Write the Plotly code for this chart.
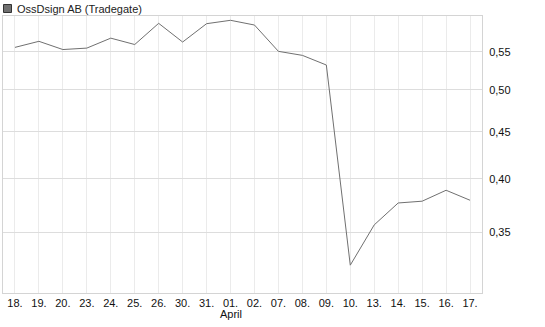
import plotly.graph_objects as go

dates = ["18.", "19.", "20.", "23.", "24.", "25.", "26.", "30.", "31.", "01.",
         "02.", "07.", "08.", "09.", "10.", "13.", "14.", "15.", "16.", "17."]
prices = [0.556, 0.5645, 0.553, 0.555, 0.569, 0.560, 0.5905, 0.5635, 0.590, 0.595,
          0.588, 0.5505, 0.545, 0.532, 0.3223, 0.3565, 0.3766, 0.3783, 0.3888, 0.3792]
ytick_vals = [0.35, 0.40, 0.45, 0.50, 0.55]
ytick_text = ["0,35", "0,40", "0,45", "0,50", "0,55"]
series_name = "OssDsign AB (Tradegate)"
month_label = "April"
month_index = 9

idx = list(range(len(dates)))

fig = go.Figure()
fig.add_trace(go.Scatter(x=idx, y=prices, mode="lines",
                         line=dict(color="#707070", width=1), showlegend=False,
                         hoverinfo="skip"))

fig.update_layout(
    width=545, height=327,
    margin=dict(l=3, r=63, t=16, b=34),
    paper_bgcolor="white", plot_bgcolor="white",
    font=dict(family="Liberation Sans, Arial, sans-serif", size=11, color="#111111"),
    xaxis=dict(range=[-0.5, len(dates) - 0.5], tickvals=idx, ticktext=dates,
               showgrid=True, gridcolor="#ebebeb", gridwidth=1,
               showline=True, linecolor="#d4d4d4", mirror=True, linewidth=1,
               ticks="", zeroline=False, tickangle=0, fixedrange=True),
    yaxis=dict(type="log", range=[-0.5220, -0.2208], side="right",
               tickvals=ytick_vals, ticktext=ytick_text,
               showgrid=True, gridcolor="#dddddd", gridwidth=1,
               showline=True, linecolor="#d4d4d4", mirror=True, linewidth=1,
               ticks="", zeroline=False, ticklabelstandoff=4),
)

# legend marker square and label
fig.add_shape(type="rect", xref="paper", yref="paper",
              x0=(3.5 - 3) / 479, x1=(11.5 - 3) / 479,
              y0=(293 - 12.5) / 277, y1=(293 - 4.5) / 277,
              fillcolor="#707070", line=dict(color="#333333", width=1))
fig.add_annotation(text=series_name, xref="paper", yref="paper",
                   x=(15 - 3) / 479, y=(293 - 8.5) / 277, xanchor="left", yanchor="middle",
                   showarrow=False, font=dict(size=11, color="#222222"))
fig.add_annotation(text=month_label, xref="x", yref="paper",
                   x=month_index, y=(293 - 314) / 277, xanchor="center", yanchor="middle",
                   showarrow=False, font=dict(size=11, color="#111111"))

fig.write_html("out.html")
